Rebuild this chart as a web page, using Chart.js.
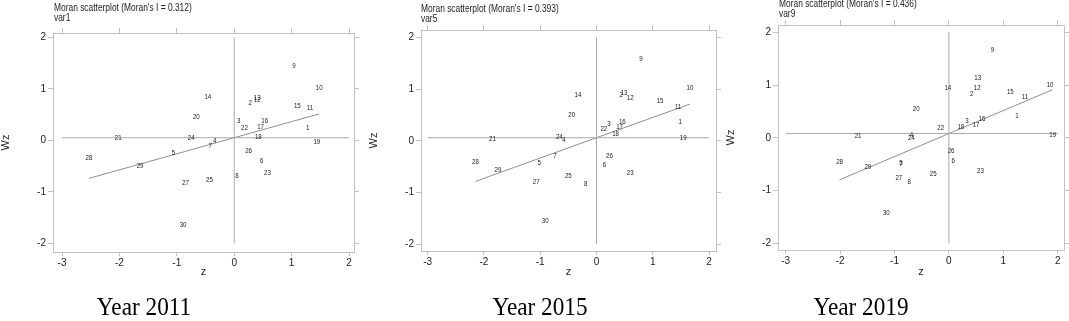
<!DOCTYPE html>
<html><head><meta charset="utf-8">
<script src="https://cdn.jsdelivr.net/npm/chart.js@4.4.1/dist/chart.umd.min.js"></script>
<style>
html,body{margin:0;padding:0;background:#fff;width:1069px;height:321px;overflow:hidden;position:relative}
canvas.pc{position:absolute;top:0}
.ttl{position:absolute;font-family:"Liberation Sans",Arial,sans-serif;font-size:10px;line-height:10px;color:#222;white-space:nowrap;transform:scaleX(0.84);transform-origin:0 0}
.cap{position:absolute;top:294px;font-family:"Liberation Serif","Times New Roman",serif;font-size:25px;line-height:25px;color:#000;white-space:nowrap;transform:translateX(-50%) scaleX(0.93)}
</style></head><body>
<script>
// ---- data ----
const ids = ['1','2','3','4','5','6','7','8','9','10','11','12','13','14','15','16','17','18','19','20','21','22','23','24','25','26','27','28','29','30'];

const z2011  = [1.28, 0.28, 0.08,-0.34,-1.06, 0.48,-0.42, 0.05, 1.04, 1.48, 1.32, 0.40, 0.40,-0.46, 1.10, 0.53, 0.46, 0.42, 1.44,-0.66,-2.02, 0.18, 0.58,-0.75,-0.43, 0.25,-0.85,-2.53,-1.64,-0.89];
const wz2011 = [0.23, 0.73, 0.38,-0.01,-0.25,-0.41,-0.12,-0.69, 1.44, 1.01, 0.62, 0.78, 0.82, 0.84, 0.66, 0.37, 0.25, 0.07,-0.03, 0.46, 0.04, 0.23,-0.64, 0.05,-0.77,-0.21,-0.83,-0.34,-0.50,-1.64];

const z2015  = [1.49, 0.44, 0.22,-0.58,-1.02, 0.14,-0.74,-0.19, 0.79, 1.66, 1.45, 0.60, 0.49,-0.33, 1.13, 0.46, 0.41, 0.34, 1.54,-0.44,-1.85, 0.13, 0.60,-0.66,-0.50, 0.23,-1.07,-2.15,-1.75,-0.91];
const wz2015 = [0.36, 0.89, 0.33, 0.01,-0.43,-0.47,-0.30,-0.83, 1.59, 1.02, 0.66, 0.83, 0.93, 0.89, 0.77, 0.36, 0.27, 0.14, 0.06, 0.49, 0.04, 0.22,-0.62, 0.08,-0.69,-0.30,-0.79,-0.41,-0.57,-1.55];

const z2019  = [1.25, 0.42, 0.33,-0.69,-0.88, 0.08,-0.88,-0.73, 0.80, 1.86, 1.40, 0.52, 0.53,-0.02, 1.13, 0.61, 0.50, 0.22, 1.91,-0.60,-1.67,-0.15, 0.58,-0.69,-0.29, 0.04,-0.92,-2.01,-1.49,-1.15];
const wz2019 = [0.42, 0.82, 0.32, 0.06,-0.47,-0.44,-0.50,-0.84, 1.66, 1.00, 0.78, 0.95, 1.13, 0.95, 0.87, 0.35, 0.25, 0.20, 0.06, 0.55, 0.04, 0.18,-0.63,-0.01,-0.68,-0.26,-0.77,-0.46,-0.55,-1.42];

const moranI  = [0.312, 0.393, 0.436];
const meanWz  = [0.05, 0.06, 0.08];
const varNames = ['var1', 'var5', 'var9'];
const years   = ['Year 2011', 'Year 2015', 'Year 2019'];
const xTicks  = [-3, -2, -1, 0, 1, 2];
const yTicks  = [-2, -1, 0, 1, 2];

// ---- layout (pixels) ----
const CH = 300;
const layout = [
  {left:0,   width:361, boxTop:33, boxBottom:252, xMin:-3.157, xMax:2.087, yMin:-2.169, yMax:2.083, tLeft:54,  tTop:3,  capX:144},
  {left:368, width:355, boxTop:30, boxBottom:251, xMin:-3.119, xMax:2.124, yMin:-2.135, yMax:2.148, tLeft:421, tTop:4,  capX:540},
  {left:725, width:344, boxTop:25, boxBottom:250, xMin:-3.142, xMax:2.116, yMin:-2.127, yMax:2.138, tLeft:779, tTop:-1, capX:861}
];
const boxW = [301, 295, 286];

const sans = '"Liberation Sans",Arial,sans-serif';
const axisCol = '#c2c2c2';
const refCol = '#a9a9a9';
const fitCol = '#8f8f8f';

const pointLabels = {
  id: 'pointLabels',
  afterDatasetsDraw(chart) {
    const ds = chart.data.datasets[0];
    const meta = chart.getDatasetMeta(0);
    const ctx = chart.ctx;
    ctx.save();
    ctx.font = '7px ' + sans;
    ctx.fillStyle = '#1a1a1a';
    ctx.textAlign = 'center';
    ctx.textBaseline = 'middle';
    meta.data.forEach((el, k) => {
      ctx.save();
      ctx.translate(el.x, el.y);
      ctx.scale(0.88, 1);
      ctx.fillText(ds.pointText[k], 0, 0);
      ctx.restore();
    });
    ctx.restore();
  }
};

function setTicks(vals) { return s => { s.ticks = vals.map(v => ({value: v})); }; }

function makePanel(i, zs, wzs) {
  const L = layout[i];
  const rightW = L.width - 53 - boxW[i];
  const cv = document.createElement('canvas');
  cv.className = 'pc';
  cv.width = L.width; cv.height = CH;
  cv.style.left = L.left + 'px';
  cv.style.width = L.width + 'px'; cv.style.height = CH + 'px';
  document.body.appendChild(cv);

  const t = document.createElement('div');
  t.className = 'ttl';
  t.style.left = L.tLeft + 'px'; t.style.top = L.tTop + 'px';
  t.innerHTML = "Moran scatterplot (Moran's I = " + moranI[i].toFixed(3) + ")<br>" + varNames[i];
  document.body.appendChild(t);

  const c = document.createElement('div');
  c.className = 'cap';
  c.style.left = L.capX + 'px';
  c.textContent = years[i];
  document.body.appendChild(c);

  const zmin = Math.min(...zs), zmax = Math.max(...zs);
  const gridBase = {drawOnChartArea:false, drawTicks:true, color:axisCol, lineWidth:1};
  const tickFont = {family: sans, size: 10};

  new Chart(cv, {
    type: 'scatter',
    data: {
      datasets: [
        {data: zs.map((v, k) => ({x: v, y: wzs[k]})), pointText: ids, pointRadius: 0, pointHoverRadius: 0},
        {data: [{x: xTicks[0], y: meanWz[i]}, {x: xTicks[xTicks.length-1], y: meanWz[i]}], showLine: true, borderColor: refCol, borderWidth: 1, pointRadius: 0},
        {data: [{x: 0, y: yTicks[0]}, {x: 0, y: yTicks[yTicks.length-1]}], showLine: true, borderColor: refCol, borderWidth: 1, pointRadius: 0},
        {data: [{x: zmin, y: meanWz[i] + moranI[i]*zmin}, {x: zmax, y: meanWz[i] + moranI[i]*zmax}], showLine: true, borderColor: fitCol, borderWidth: 1, pointRadius: 0}
      ]
    },
    options: {
      responsive: false, animation: false, devicePixelRatio: 1,
      layout: {padding: 0},
      plugins: {legend: {display: false}, tooltip: {enabled: false}},
      events: [],
      scales: {
        x: {type:'linear', position:'bottom', min:L.xMin, max:L.xMax,
            afterBuildTicks: setTicks(xTicks), afterFit: s => { s.height = CH - L.boxBottom; },
            grid: Object.assign({tickLength:4}, gridBase), border:{display:true, color:axisCol},
            ticks:{font:tickFont, color:'#222', padding:1, maxRotation:0, autoSkip:false},
            title:{display:true, text:'z', font:{family:sans, size:11}, color:'#222', padding:{top:0, bottom:21}}},
        x2:{type:'linear', position:'top', min:L.xMin, max:L.xMax,
            afterBuildTicks: setTicks(xTicks), afterFit: s => { s.height = L.boxTop; },
            grid: Object.assign({tickLength:5}, gridBase), border:{display:true, color:axisCol},
            ticks:{display:false}},
        y: {type:'linear', position:'left', min:L.yMin, max:L.yMax,
            afterBuildTicks: setTicks(yTicks), afterFit: s => { s.width = 53; },
            grid: Object.assign({tickLength:5}, gridBase), border:{display:true, color:axisCol},
            ticks:{font:tickFont, color:'#222', padding:2},
            title:{display:true, text:'Wz', font:{family:sans, size:11}, color:'#222', padding:{top:-1, bottom:0}}},
        y2:{type:'linear', position:'right', min:L.yMin, max:L.yMax,
            afterBuildTicks: setTicks(yTicks), afterFit: s => { s.width = rightW; },
            grid: Object.assign({tickLength:5}, gridBase), border:{display:true, color:axisCol},
            ticks:{display:false}}
      }
    },
    plugins: [pointLabels]
  });
}

makePanel(0, z2011, wz2011);
makePanel(1, z2015, wz2015);
makePanel(2, z2019, wz2019);
</script>
</body></html>
